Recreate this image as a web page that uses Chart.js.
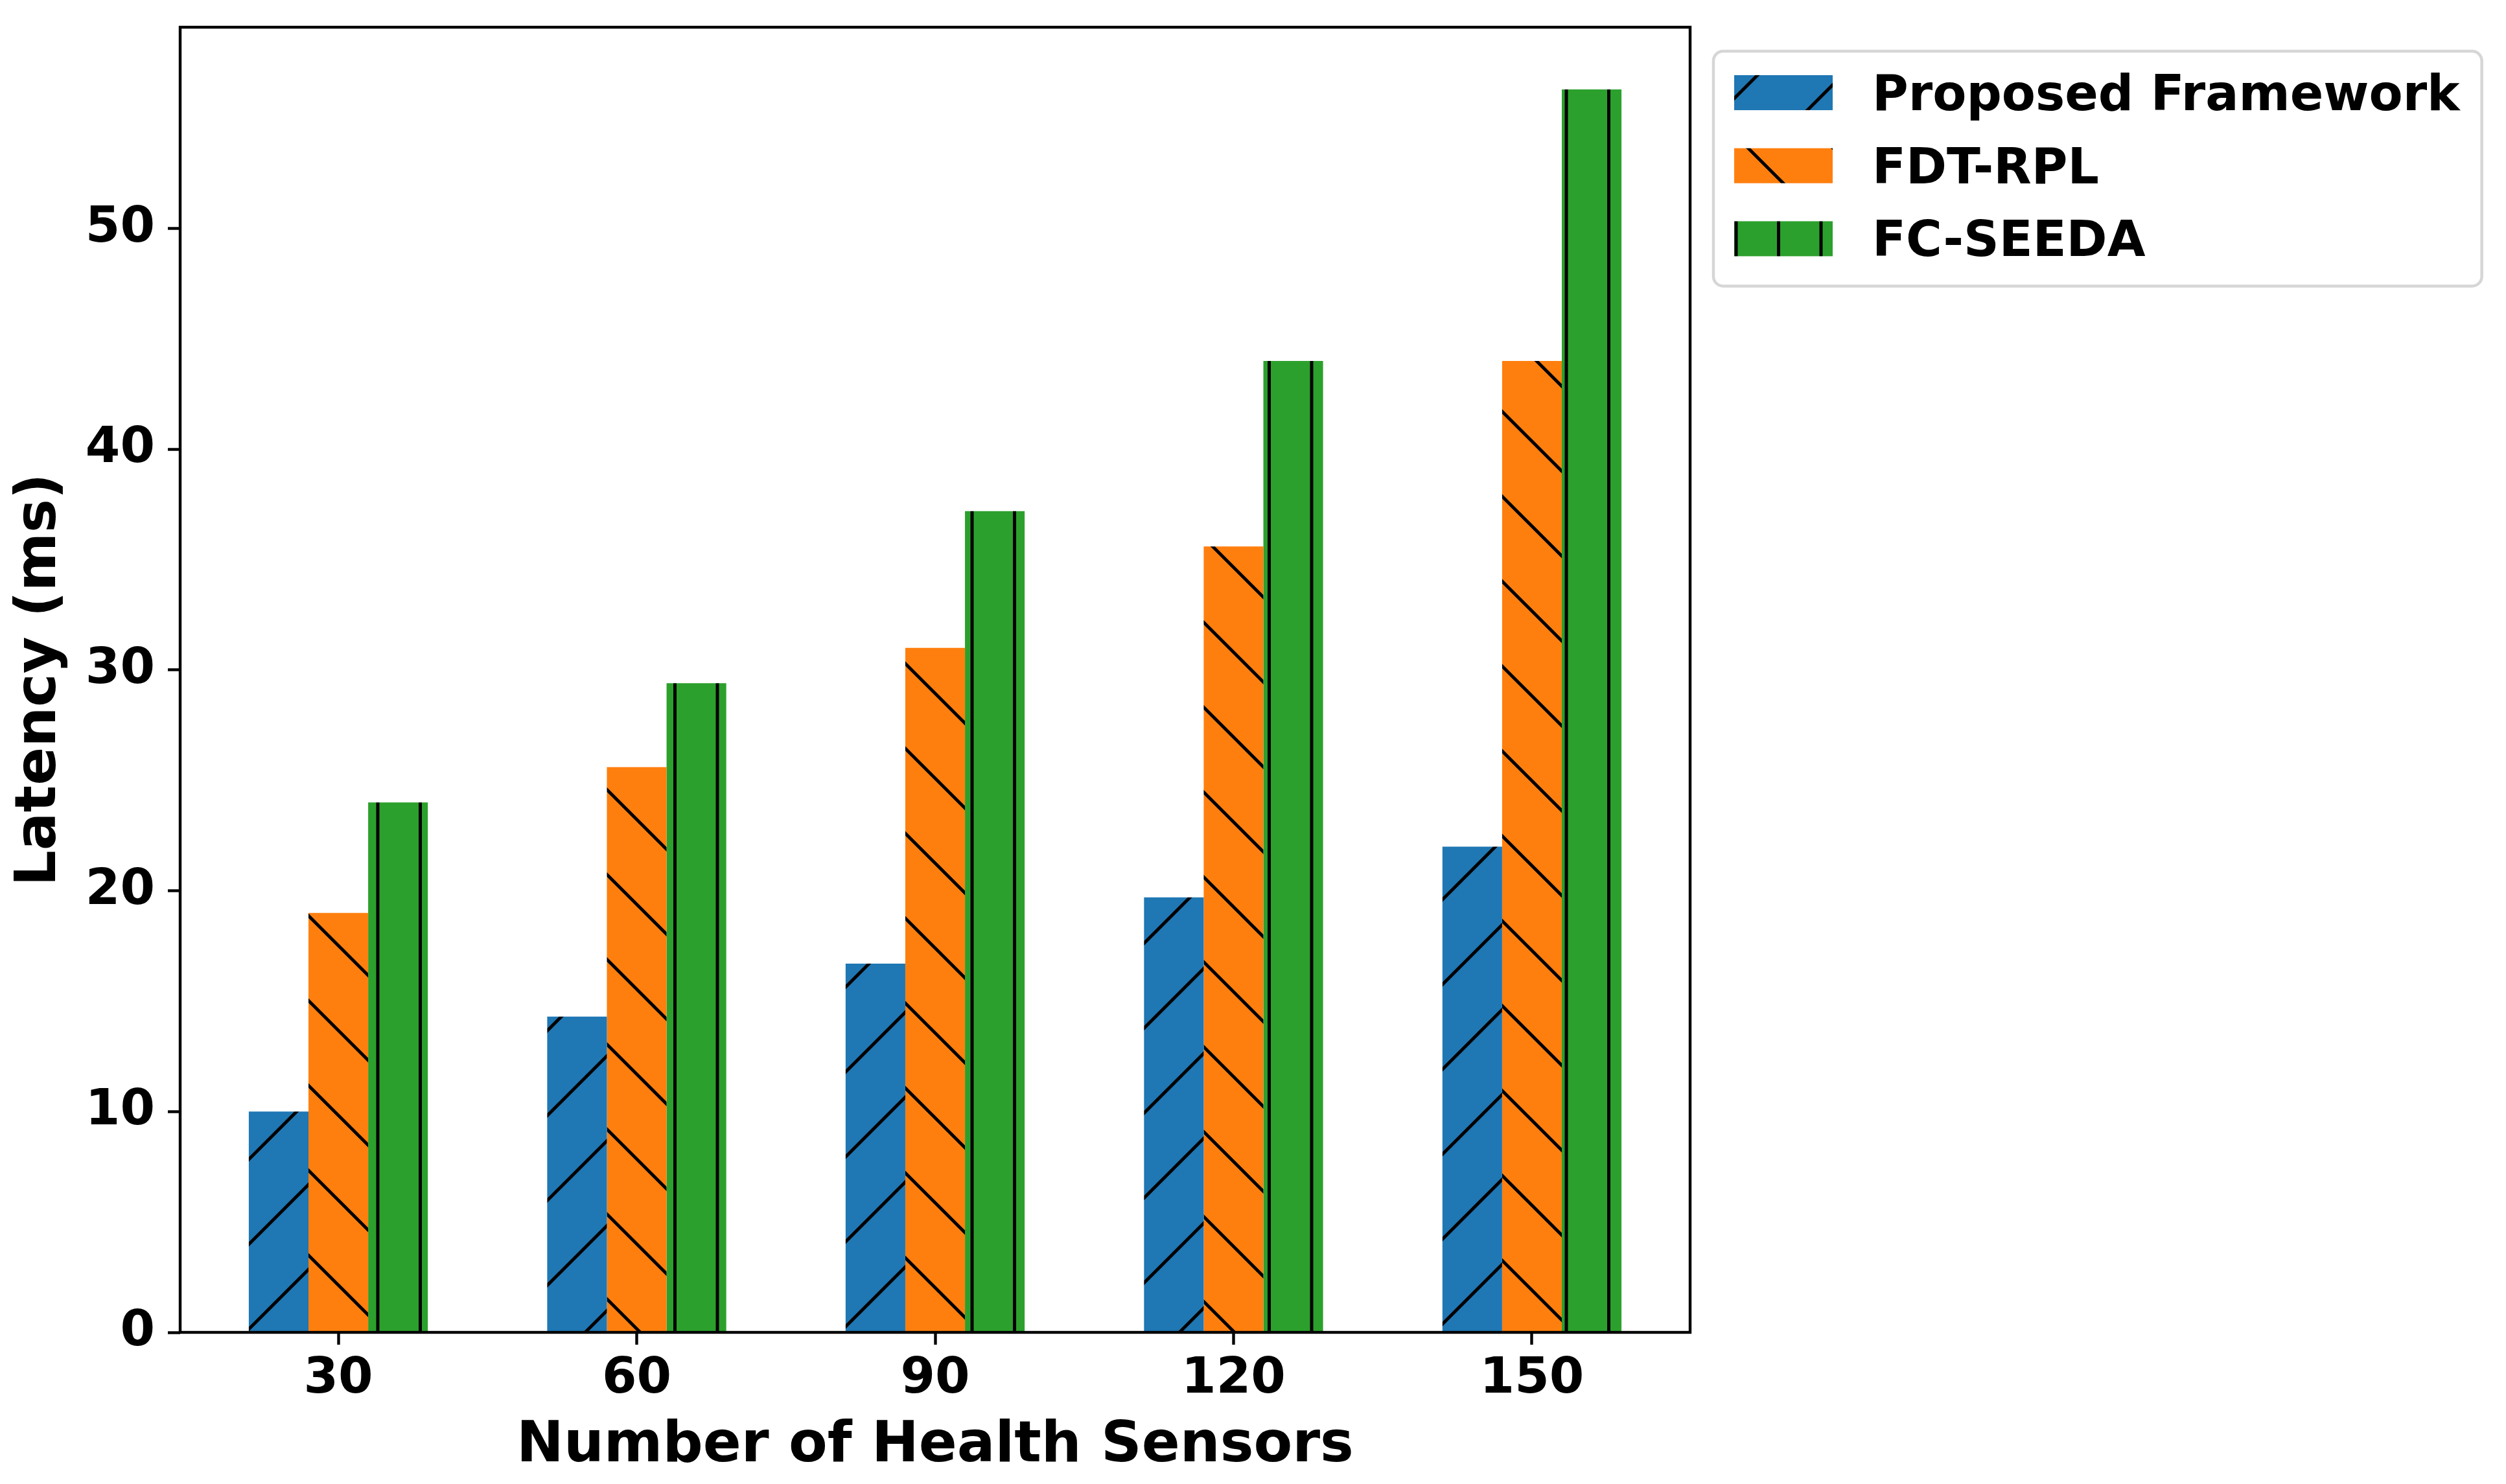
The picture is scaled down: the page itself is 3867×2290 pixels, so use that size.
<!DOCTYPE html>
<html lang="en">
<head>
    <meta charset="UTF-8">
    <title>Latency vs Number of Health Sensors</title>
    <script src="https://cdn.jsdelivr.net/npm/chart.js"></script>
    <style>
        html, body { margin: 0; padding: 0; background: #fff; overflow: hidden; }
        .chart-container { width: 3867px; height: 2290px; position: relative; }
    </style>
</head>
<body>
    <div class="chart-container">
        <canvas id="latencyChart" width="3867" height="2290"></canvas>
    </div>

    <script>
        // data
        const categories = ['30', '60', '90', '120', '150'];
        const seriesNames = ['Proposed Framework', 'FDT-RPL', 'FC-SEEDA'];
        const proposed = [10, 14.3, 16.7, 19.7, 22];
        const fdtRpl = [19, 25.6, 31, 35.6, 44];
        const fcSeeda = [24, 29.4, 37.2, 44, 56.3];
        const yTicks = [0, 10, 20, 30, 40, 50];

        const xLabel = 'Number of Health Sensors';
        const yLabel = 'Latency (ms)';

        // hatched fills, tile of 131px like the original hatch grid
        function hatch(color, kind, tx, ty) {
            const P = 131;
            const c = document.createElement('canvas');
            c.width = P; c.height = P;
            const g = c.getContext('2d');
            g.fillStyle = color;
            g.fillRect(0, 0, P, P);
            g.strokeStyle = '#000';
            g.lineWidth = 5;
            g.beginPath();
            if (kind === '/') {
                [0, P, 2 * P].forEach(k => { g.moveTo(k + 6, -6); g.lineTo(k - P - 6, P + 6); });
            } else if (kind === '\\') {
                [-P, 0, P].forEach(k => { g.moveTo(-6, k - 6); g.lineTo(P + 6, k + P + 6); });
            } else {
                [0, P / 2, P].forEach(x => { g.moveTo(x, -6); g.lineTo(x, P + 6); });
            }
            g.stroke();
            const pat = document.getElementById('latencyChart').getContext('2d').createPattern(c, 'repeat');
            pat.setTransform(new DOMMatrix([1, 0, 0, 1, tx, ty]));
            return pat;
        }

        const fills = [
            hatch('#1f77b4', '/', 77, 0),
            hatch('#ff7f0e', '\\', 0, 20),
            hatch('#2ca02c', '|', 59, 0)
        ];

        const toPoints = arr => arr.map((v, i) => ({ x: i, y: v }));
        const yMax = Math.max(...proposed, ...fdtRpl, ...fcSeeda) * 1.05;

        const FONT = 'DejaVu Sans';
        Chart.defaults.font.family = FONT;
        Chart.defaults.color = '#000';

        // axes box + legend drawn on top, like matplotlib
        const frameAndLegend = {
            id: 'frameAndLegend',
            afterDraw(chart) {
                const ctx = chart.ctx;
                const a = chart.chartArea;
                ctx.save();
                ctx.strokeStyle = '#000';
                ctx.lineWidth = 4.4;
                ctx.strokeRect(a.left, a.top, a.right - a.left, a.bottom - a.top);

                const fs = 76;
                const left = a.right + 36;
                const top = a.top + 37;
                const patchX = left + 32;
                const patchW = 152;
                const patchH = 54;
                const textX = patchX + patchW + 61;
                const rowStep = 112.7;
                ctx.font = 'bold ' + fs + 'px "' + FONT + '"';
                let maxW = 0;
                chart.data.datasets.forEach(ds => { maxW = Math.max(maxW, ctx.measureText(ds.label).width); });
                const n = chart.data.datasets.length;
                const right = textX + maxW + 34;
                const bottom = top + 37 + (n - 1) * rowStep + patchH + 46;

                ctx.beginPath();
                ctx.roundRect(left, top, right - left, bottom - top, 15);
                ctx.fillStyle = 'rgba(255,255,255,0.8)';
                ctx.fill();
                ctx.strokeStyle = '#d6d6d6';
                ctx.lineWidth = 4.5;
                ctx.stroke();

                chart.data.datasets.forEach((ds, i) => {
                    const py = top + 37 + i * rowStep;
                    ctx.fillStyle = ds.backgroundColor;
                    ctx.fillRect(patchX, py, patchW, patchH);
                    ctx.fillStyle = '#000';
                    ctx.textAlign = 'left';
                    ctx.textBaseline = 'alphabetic';
                    ctx.fillText(ds.label, textX, py + patchH);
                });
                ctx.restore();
            }
        };

        const ctx = document.getElementById('latencyChart').getContext('2d');
        const latencyChart = new Chart(ctx, {
            type: 'bar',
            data: {
                datasets: [
                    { label: seriesNames[0], data: toPoints(proposed), backgroundColor: fills[0] },
                    { label: seriesNames[1], data: toPoints(fdtRpl), backgroundColor: fills[1] },
                    { label: seriesNames[2], data: toPoints(fcSeeda), backgroundColor: fills[2] }
                ]
            },
            options: {
                responsive: false,
                maintainAspectRatio: false,
                animation: false,
                devicePixelRatio: 1,
                categoryPercentage: 0.6,
                barPercentage: 1.0,
                layout: {
                    autoPadding: false,
                    padding: { left: 0, top: 42, right: 1259, bottom: 0 }
                },
                plugins: {
                    legend: { display: false },
                    tooltip: { enabled: false }
                },
                scales: {
                    x: {
                        type: 'linear',
                        offset: false,
                        min: -0.53,
                        max: categories.length - 1 + 0.53,
                        afterBuildTicks: s => { s.ticks = categories.map((c, i) => ({ value: i })); },
                        afterFit: s => {
                            s.height = 234;
                            s.paddingLeft = 0; s.paddingRight = 0;
                        },
                        border: { display: false },
                        grid: {
                            display: true,
                            offset: false,
                            drawOnChartArea: false,
                            drawTicks: true,
                            tickLength: 19,
                            tickWidth: 4.4,
                            tickColor: '#000'
                        },
                        ticks: {
                            autoSkip: false,
                            maxRotation: 0,
                            padding: 8,
                            color: '#000',
                            font: { size: 77, weight: 'bold' },
                            callback: v => categories[v]
                        },
                        title: {
                            display: true,
                            text: xLabel,
                            color: '#000',
                            font: { size: 87, weight: 'bold' },
                            padding: { top: 0, bottom: 5 }
                        }
                    },
                    y: {
                        min: 0,
                        max: yMax,
                        afterBuildTicks: s => { s.ticks = yTicks.map(v => ({ value: v })); },
                        afterFit: s => {
                            s.width = 278;
                            s.paddingTop = 0; s.paddingBottom = 0;
                        },
                        border: { display: false },
                        grid: {
                            display: true,
                            drawOnChartArea: false,
                            drawTicks: true,
                            tickLength: 19,
                            tickWidth: 4.4,
                            tickColor: '#000'
                        },
                        ticks: {
                            padding: 20,
                            color: '#000',
                            font: { size: 77, weight: 'bold' }
                        },
                        title: {
                            display: true,
                            text: yLabel,
                            color: '#000',
                            font: { size: 87, weight: 'bold' },
                            padding: { top: 10, bottom: 0 }
                        }
                    }
                }
            },
            plugins: [frameAndLegend]
        });
    </script>
</body>
</html>
